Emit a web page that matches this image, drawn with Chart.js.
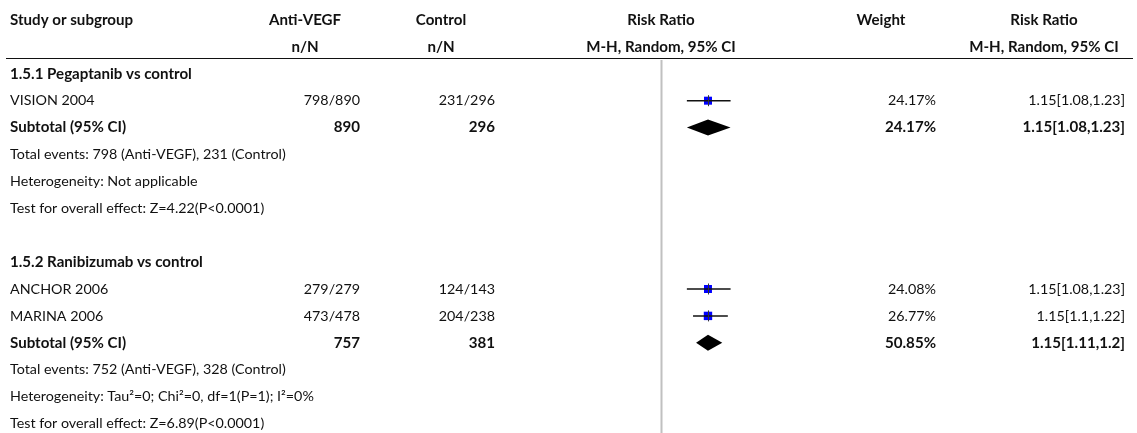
<!DOCTYPE html>
<html lang="en">
<head>
    <meta charset="UTF-8">
    <title>Forest plot - Anti-VEGF vs control</title>
    <script src="https://cdn.jsdelivr.net/npm/chart.js@4.4.1/dist/chart.umd.min.js"></script>
    <style>
        html, body { margin: 0; padding: 0; background: #fff; }
        #wrap { width: 1137px; height: 433px; position: relative; }
    </style>
</head>
<body>
<div id="wrap"><canvas id="forest"></canvas></div>

<script>
    // Studies
    const studyNames = ['VISION 2004', 'ANCHOR 2006', 'MARINA 2006'];
    const studyRows = [3, 10, 11];
    const treatEvents = [798, 279, 473];
    const treatTotal = [890, 279, 478];
    const ctrlEvents = [231, 124, 204];
    const ctrlTotal = [296, 143, 238];
    const studyRR = [1.15, 1.15, 1.15];
    const studyLo = [1.08, 1.08, 1.1];
    const studyHi = [1.23, 1.23, 1.22];
    const studyWeight = [24.17, 24.08, 26.77];

    // Subgroups
    const subgroupTitles = ['1.5.1 Pegaptanib vs control', '1.5.2 Ranibizumab vs control'];
    const subgroupRows = [2, 9];
    const subtotalRows = [4, 12];
    const subTreatTotal = [890, 757];
    const subCtrlTotal = [296, 381];
    const subRR = [1.15, 1.15];
    const subLo = [1.08, 1.11];
    const subHi = [1.23, 1.2];
    const subWeight = [24.17, 50.85];
    const subNotes = [
        ['Total events: 798 (Anti-VEGF), 231 (Control)',
         'Heterogeneity: Not applicable',
         'Test for overall effect: Z=4.22(P<0.0001)'],
        ['Total events: 752 (Anti-VEGF), 328 (Control)',
         'Heterogeneity: Tau\u00b2=0; Chi\u00b2=0, df=1(P=1); I\u00b2=0%',
         'Test for overall effect: Z=6.89(P<0.0001)']
    ];

    const FONT = 'Lato, "Open Sans", sans-serif';
    const INK = '#111';

    function fmtCI(rr, lo, hi) {
        return rr + '[' + lo + ',' + hi + ']';
    }

    // whiskers, one line dataset per study
    const datasets = studyNames.map((name, i) => ({
        type: 'line',
        label: name,
        data: [{x: studyLo[i], y: studyRows[i]}, {x: studyHi[i], y: studyRows[i]}],
        borderColor: '#111',
        borderWidth: 1.5,
        pointRadius: 0,
        fill: false
    }));

    // blue squares sized by weight
    datasets.push({
        type: 'scatter',
        label: 'estimates',
        data: studyNames.map((n, i) => ({x: studyRR[i], y: studyRows[i]})),
        pointStyle: 'rect',
        pointRadius: studyWeight.map(w => Math.sqrt(w) * 1.15),
        backgroundColor: '#0000ff',
        borderColor: '#0000ff',
        borderWidth: 0
    });

    const forestText = {
        id: 'forestText',
        afterDatasetsDraw(chart) {
            const ctx = chart.ctx;
            const xs = chart.scales.x;
            const ys = chart.scales.y;
            const rowY = r => ys.getPixelForValue(r);

            function txt(s, x, row, align, bold) {
                ctx.font = bold ? 'bold 15.1px ' + FONT : '14.3px ' + FONT;
                ctx.textAlign = align;
                ctx.textBaseline = 'middle';
                ctx.fillStyle = INK;
                ctx.fillText(s, x, rowY(row));
            }

            ctx.save();

            // null line at RR = 1
            const x1 = Math.round(xs.getPixelForValue(1)) + 0.5;
            ctx.strokeStyle = '#c0c0c0';
            ctx.lineWidth = 2;
            ctx.beginPath();
            ctx.moveTo(x1, 60);
            ctx.lineTo(x1, chart.height);
            ctx.stroke();

            // header rule
            ctx.strokeStyle = '#111';
            ctx.lineWidth = 1.2;
            ctx.beginPath();
            ctx.moveTo(6, 58.5);
            ctx.lineTo(1133, 58.5);
            ctx.stroke();

            // headers
            txt('Study or subgroup', 10, 0, 'left', true);
            txt('Anti-VEGF', 305, 0, 'center', true);
            txt('n/N', 305, 1, 'center', true);
            txt('Control', 441, 0, 'center', true);
            txt('n/N', 441, 1, 'center', true);
            txt('Risk Ratio', 661, 0, 'center', true);
            txt('M-H, Random, 95% CI', 661, 1, 'center', true);
            txt('Weight', 881, 0, 'center', true);
            txt('Risk Ratio', 1044, 0, 'center', true);
            txt('M-H, Random, 95% CI', 1044, 1, 'center', true);

            // study rows
            studyNames.forEach((name, i) => {
                const r = studyRows[i];
                txt(name, 10, r, 'left', false);
                txt(treatEvents[i] + '/' + treatTotal[i], 360, r, 'right', false);
                txt(ctrlEvents[i] + '/' + ctrlTotal[i], 495, r, 'right', false);
                txt(studyWeight[i].toFixed(2) + '%', 936, r, 'right', false);
                txt(fmtCI(studyRR[i], studyLo[i], studyHi[i]), 1125, r, 'right', false);

                // dark tick through the square
                const px = Math.round(xs.getPixelForValue(studyRR[i])) + 0.5;
                const py = rowY(r);
                ctx.strokeStyle = '#333';
                ctx.lineWidth = 1;
                ctx.beginPath();
                ctx.moveTo(px, py - 5.5);
                ctx.lineTo(px, py + 5.5);
                ctx.stroke();
            });

            // subgroups
            subgroupTitles.forEach((title, g) => {
                txt(title, 10, subgroupRows[g], 'left', true);
                const r = subtotalRows[g];
                txt('Subtotal (95% CI)', 10, r, 'left', true);
                txt(String(subTreatTotal[g]), 360, r, 'right', true);
                txt(String(subCtrlTotal[g]), 495, r, 'right', true);
                txt(subWeight[g].toFixed(2) + '%', 936, r, 'right', true);
                txt(fmtCI(subRR[g], subLo[g], subHi[g]), 1125, r, 'right', true);
                subNotes[g].forEach((s, k) => txt(s, 10, r + 1 + k, 'left', false));

                // diamond
                const cy = rowY(r);
                const h = 8;
                ctx.fillStyle = '#000';
                ctx.beginPath();
                ctx.moveTo(xs.getPixelForValue(subLo[g]), cy);
                ctx.lineTo(xs.getPixelForValue(subRR[g]), cy - h);
                ctx.lineTo(xs.getPixelForValue(subHi[g]), cy);
                ctx.lineTo(xs.getPixelForValue(subRR[g]), cy + h);
                ctx.closePath();
                ctx.fill();
            });

            ctx.restore();
        }
    };

    new Chart(document.getElementById('forest'), {
        data: { datasets: datasets },
        options: {
            responsive: true,
            maintainAspectRatio: false,
            animation: false,
            events: [],
            layout: { autoPadding: false, padding: { left: 586, right: 401, top: 0, bottom: 0 } },
            plugins: { legend: { display: false }, tooltip: { enabled: false } },
            scales: {
                x: { type: 'logarithmic', min: 0.8, max: 1.25, display: false },
                y: { type: 'linear', min: -0.743, max: 15.353, reverse: true, display: false }
            }
        },
        plugins: [forestText]
    });
</script>
</body>
</html>
